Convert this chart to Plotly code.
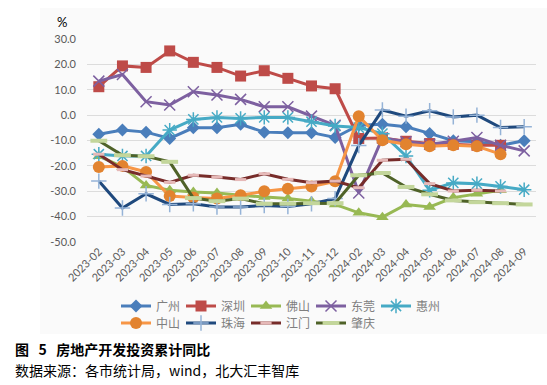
import plotly.graph_objects as go

months = ["2023-02","2023-03","2023-04","2023-05","2023-06","2023-07","2023-08","2023-09",
          "2023-10","2023-11","2023-12","2024-02","2024-03","2024-04","2024-05","2024-06",
          "2024-07","2024-08","2024-09"]

guangzhou = [-7.5,-5.9,-6.7,-9.2,-5.0,-5.0,-3.6,-6.7,-6.9,-6.9,-8.8,-4.0,-3.6,-4.6,-7.2,-10.1,-10.5,-11.9,-10.1]
shenzhen = [11.2,19.4,18.8,25.3,20.8,18.8,15.4,17.5,14.5,11.5,10.4,-9.2,-9.0,-10.3,-11.2,-11.5,-11.9,-11.9,None]
foshan = [-16.2,-20.4,-27.7,-29.6,-30.3,-30.7,-31.6,-32.3,-32.9,-33.9,-35.2,-38.5,-40.2,-35.2,-36.2,-32.5,-31.0,-29.6,None]
dongguan = [13.4,16.0,5.3,4.0,9.2,7.9,6.2,3.3,3.3,-0.4,-4.0,-30.7,-9.0,-10.5,-11.5,-10.3,-8.8,-11.9,-14.1]
huizhou = [-15.4,-16.1,-16.1,-5.9,-1.7,-0.9,-1.3,-0.9,-0.9,-2.6,-4.3,-4.9,-7.3,-16.1,-29.6,-26.7,-27.0,-28.1,-29.4]
zhongshan = [-20.4,-20.0,-22.4,-31.9,-32.5,-32.9,-31.6,-30.0,-29.0,-28.1,-26.1,-0.4,-9.9,-11.5,-12.3,-11.9,-12.3,-15.4,None]
zhuhai = [-26.0,-36.6,-31.0,-35.2,-34.9,-36.2,-36.2,-35.6,-36.0,-34.9,-32.9,-12.0,2.0,-0.4,1.7,-0.7,0.0,-4.9,-4.6]
jiangmen = [-15.4,-21.5,-24.0,-26.5,-23.7,-24.4,-25.4,-23.1,-25.3,-26.6,-26.0,-28.6,-17.8,-17.4,-27.0,-29.9,-29.6,-29.9,None]
zhaoqing = [-10.1,-15.8,-16.2,-18.4,-32.7,-33.9,-32.9,-34.9,-34.9,-34.7,-34.7,-23.7,-22.8,-28.3,-31.2,-33.6,-34.3,-34.7,-35.2]

y_ticks = [30, 20, 10, 0, -10, -20, -30, -40, -50]

series = [
    ("广州", guangzhou, "#4A7EBB", dict(symbol="diamond", size=10, color="#4A7EBB"), "legend"),
    ("深圳", shenzhen, "#BE4B48", dict(symbol="square", size=11, color="#BE4B48"), "legend"),
    ("佛山", foshan, "#98B954", dict(symbol="triangle-up", size=11, color="#98B954"), "legend"),
    ("东莞", dongguan, "#7D60A0", dict(symbol="x-thin", size=11, color="#7D60A0",
                                       line=dict(color="#7D60A0", width=1.5)), "legend"),
    ("惠州", huizhou, "#46AAC5", dict(symbol="asterisk", size=12, color="#46AAC5",
                                       line=dict(color="#46AAC5", width=1.5)), "legend"),
    ("中山", zhongshan, "#F79646", dict(symbol="circle", size=12, color="#E2832F"), "legend2"),
    ("珠海", zhuhai, "#1F497D", dict(symbol="cross-thin", size=11, color="#95B3D7",
                                     line=dict(color="#95B3D7", width=1.5)), "legend2"),
    ("江门", jiangmen, "#772C2A", dict(symbol="line-ew", size=8, color="#E6B9B8",
                                     line=dict(color="#E6B9B8", width=3)), "legend2"),
    ("肇庆", zhaoqing, "#4F6228", dict(symbol="line-ew", size=12, color="#C3D69B",
                                     line=dict(color="#C3D69B", width=4)), "legend2"),
]

fig = go.Figure()
for name, vals, col, mk, lg in series:
    fig.add_trace(go.Scatter(
        x=months, y=vals, name=name, mode="lines+markers",
        line=dict(color=col, width=3), marker=mk, legend=lg,
    ))

L, R, T, B = 87, 11, 39, 143
W, H = 547, 385
pw = W - L - R
ph = H - T - B

def px_x(px):
    return (px - L) / pw

def px_y(py):
    return (H - B - py) / ph

legend_common = dict(orientation="h", xanchor="left", yanchor="middle",
                     entrywidth=20, entrywidthmode="pixels", itemwidth=30,
                     font=dict(size=12, color="#7F7F7F", family="Noto Sans CJK SC"),
                     bgcolor="rgba(0,0,0,0)")

sp = "\u00a0"
fig.update_layout(
    width=W, height=H,
    margin=dict(l=L, r=R, t=T, b=B, autoexpand=False),
    paper_bgcolor="white",
    plot_bgcolor="rgba(0,0,0,0)",
    font=dict(family="Lato, Noto Sans CJK SC", size=11, color="#595959"),
    xaxis=dict(type="category", range=[-0.5, 18.5], tickangle=-45, showgrid=False,
               showline=False, zeroline=False, ticks="",
               tickfont=dict(size=11, color="#595959", family="Lato"),
               fixedrange=True),
    yaxis=dict(range=[-50, 30], tickvals=y_ticks, ticktext=[f"{v:.1f}" for v in y_ticks],
               showgrid=True, gridcolor="#DCDCDC", gridwidth=1, zeroline=False,
               showline=False, ticks="", tickfont=dict(size=11, color="#595959", family="Lato"),
               ticklabelstandoff=10),
    legend=dict(x=px_x(116), y=px_y(306), **legend_common),
    legend2=dict(x=px_x(116), y=px_y(323), **legend_common),
    showlegend=True,
    shapes=[dict(type="rect", xref="paper", yref="paper",
                 x0=px_x(40), x1=px_x(547), y0=px_y(334), y1=px_y(8),
                 fillcolor="#FAFAFA", line=dict(width=0), layer="below")],
    annotations=[
        dict(text="%", xref="paper", yref="paper", x=px_x(55), y=px_y(22),
             xanchor="left", yanchor="middle", showarrow=False,
             font=dict(size=13, color="black", family="Lato")),
        dict(text="<b>图" + sp * 3 + "5" + sp * 3 + "房地产开发投资累计同比</b>", xref="paper", yref="paper",
             x=px_x(13), y=px_y(348.5), xanchor="left", yanchor="middle", showarrow=False,
             font=dict(size=14, color="black", family="Noto Sans CJK SC")),
        dict(text="数据来源：各市统计局，wind，北大汇丰智库", xref="paper", yref="paper",
             x=px_x(13), y=px_y(369.5), xanchor="left", yanchor="middle", showarrow=False,
             font=dict(size=14, color="black", family="Noto Sans CJK SC")),
    ],
)

fig.write_html("out.html", config={"displayModeBar": False},
               post_script="document.body.style.margin='0';")
